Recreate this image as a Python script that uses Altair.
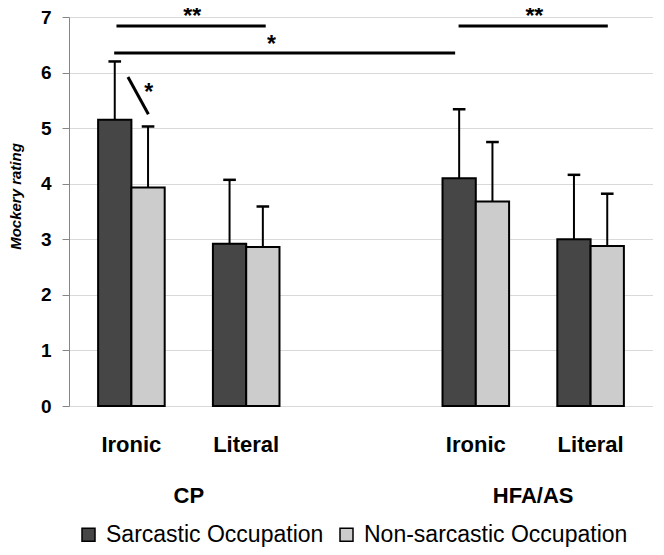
import altair as alt
import pandas as pd

FONT = "Liberation Sans"

groups = ["CP", "HFA/AS"]
conditions = ["Ironic", "Literal"]
series = ["Sarcastic Occupation", "Non-sarcastic Occupation"]
series_colors = ["#464646", "#cccccc"]

# order: CP-Ironic, CP-Literal, HFA/AS-Ironic, HFA/AS-Literal
sarcastic_mean = [5.15, 2.92, 4.10, 3.00]
sarcastic_sd = [1.05, 1.15, 1.24, 1.16]
nonsarcastic_mean = [3.93, 2.86, 3.68, 2.88]
nonsarcastic_sd = [1.10, 0.73, 1.07, 0.94]

# significance annotations (data coordinates: x in category slots, y in rating)
bracket_x1 = [0.37, 0.35, 3.35]
bracket_x2 = [1.67, 3.32, 4.65]
bracket_y = [6.84, 6.35, 6.84]
star_text = ["**", "*", "**", "*"]
star_x = [1.03, 1.72, 4.01, 0.65]
star_y = [7.09, 6.60, 7.09, 5.74]
diag_x = [0.47, 0.648]
diag_y = [5.92, 5.25]

TITLE = "Mockery rating"
y_ticks = [0, 1, 2, 3, 4, 5, 6, 7]

# ---- tables ----
rows = []
means = [sarcastic_mean, nonsarcastic_mean]
sds = [sarcastic_sd, nonsarcastic_sd]
for gi, g in enumerate(groups):
    for ci, c in enumerate(conditions):
        k = gi * 2 + ci
        for si, s in enumerate(series):
            rows.append({"group": g, "condition": c, "series": s,
                         "slot": gi * 3 + ci, "sidx": si,
                         "mean": means[si][k], "sd": sds[si][k]})
df = pd.DataFrame(rows)

cat_df = pd.DataFrame([{"label": c, "slot": gi * 3 + ci}
                       for gi, g in enumerate(groups) for ci, c in enumerate(conditions)])
grp_df = pd.DataFrame([{"label": g, "slot": gi * 3 + 0.5} for gi, g in enumerate(groups)])
br_df = pd.DataFrame({"x1": bracket_x1, "x2": bracket_x2, "y": bracket_y})
star_df = pd.DataFrame({"t": star_text, "x": star_x, "y": star_y})
diag_df = pd.DataFrame({"x1": [diag_x[0]], "x2": [diag_x[1]], "y1": [diag_y[0]], "y2": [diag_y[1]]})

xs = alt.Scale(domain=[0, 5])
ys = alt.Scale(domain=[0, 7])

base = alt.Chart(df).transform_calculate(
    x0="datum.slot + 0.21 + datum.sidx * 0.29",
    x1="datum.slot + 0.50 + datum.sidx * 0.29",
    xc="datum.slot + 0.355 + datum.sidx * 0.29",
    cl="datum.slot + 0.30 + datum.sidx * 0.29",
    cr="datum.slot + 0.41 + datum.sidx * 0.29",
    top="datum.mean + datum.sd",
    zero="0",
)

yaxis = alt.Axis(values=y_ticks, format="d", grid=True, gridColor="#d9d9d9",
                 domainColor="#868686", tickColor="#868686", tickSize=7,
                 labelFont=FONT, labelFontSize=19, labelFontWeight="bold",
                 labelColor="black", labelPadding=11,
                 title=TITLE, titleFont=FONT, titleFontSize=15,
                 titleFontStyle="italic", titleFontWeight="bold",
                 titleColor="black", titleX=-46, titleY=179)


def Y(field):
    return alt.Y(field, scale=ys, axis=yaxis)


bars = base.mark_bar(stroke="black", strokeWidth=2, orient="vertical").encode(
    x=alt.X("x0:Q", scale=xs, axis=None),
    x2="x1:Q",
    y=Y("mean:Q"),
    y2="zero:Q",
    color=alt.Color("series:N",
                    scale=alt.Scale(domain=series, range=series_colors),
                    legend=alt.Legend(orient="none", legendX=8, legendY=506,
                                      direction="horizontal", title=None,
                                      symbolType="square", symbolSize=169,
                                      symbolStrokeColor="black", symbolStrokeWidth=1.5,
                                      labelFont=FONT, labelFontSize=23, labelColor="black",
                                      labelLimit=500, columnPadding=11, labelOffset=6,
                                      padding=0)),
)

err = base.mark_rule(color="black", strokeWidth=2).encode(
    x=alt.X("xc:Q", scale=xs, axis=None),
    y=Y("mean:Q"),
    y2="top:Q",
)
caps = base.mark_rule(color="black", strokeWidth=2.5).encode(
    x=alt.X("cl:Q", scale=xs, axis=None),
    x2="cr:Q",
    y=Y("top:Q"),
)

brackets = alt.Chart(br_df).mark_rule(color="black", strokeWidth=3).encode(
    x=alt.X("x1:Q", scale=xs, axis=None), x2="x2:Q",
    y=Y("y:Q"),
)
diag = alt.Chart(diag_df).mark_rule(color="black", strokeWidth=3).encode(
    x=alt.X("x1:Q", scale=xs, axis=None), x2="x2:Q",
    y=Y("y1:Q"), y2="y2:Q",
)
stars = alt.Chart(star_df).mark_text(font=FONT, fontSize=23, fontWeight="bold",
                                     baseline="alphabetic", dy=12.5, color="black").encode(
    x=alt.X("x:Q", scale=xs, axis=None),
    y=Y("y:Q"),
    text="t:N",
)

cats = alt.Chart(cat_df).transform_calculate(
    xc="datum.slot + 0.5", yy="-0.83"
).mark_text(font=FONT, fontSize=22, fontWeight="bold", baseline="alphabetic",
            color="black").encode(
    x=alt.X("xc:Q", scale=xs, axis=None),
    y=Y("yy:Q"),
    text="label:N",
)
grps = alt.Chart(grp_df).transform_calculate(
    xc="datum.slot + 0.5", yy="-1.745"
).mark_text(font=FONT, fontSize=22, fontWeight="bold", baseline="alphabetic",
            color="black").encode(
    x=alt.X("xc:Q", scale=xs, axis=None),
    y=Y("yy:Q"),
    text="label:N",
)

chart = alt.layer(bars, err, caps, brackets, diag, stars, cats, grps).properties(
    width=584, height=389,
    padding={"left": 61, "top": 9, "right": 0, "bottom": 141},
    autosize=alt.AutoSizeParams(type="none"),
).configure_view(stroke=None)

chart.save("out.html", embed_options={"renderer": "svg", "actions": False})
